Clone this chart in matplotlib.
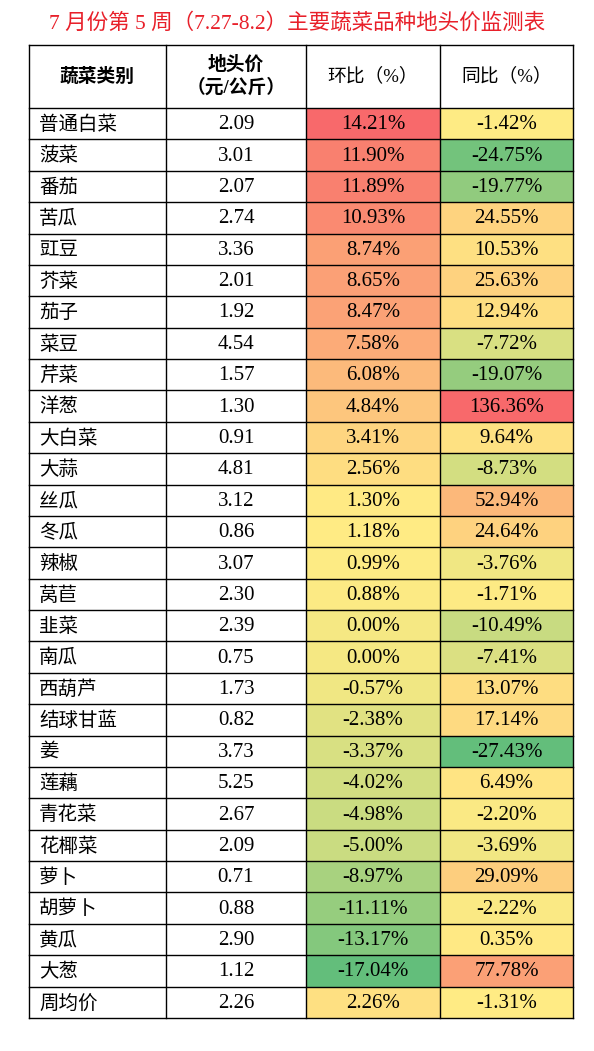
import numpy as np
import matplotlib
matplotlib.use('Agg')
from matplotlib import pyplot as plt
from matplotlib.colors import LinearSegmentedColormap, to_rgb

plt.rcParams['font.family'] = ['Liberation Serif', 'Noto Sans CJK SC']

title = '7 月份第 5 周（7.27-8.2）主要蔬菜品种地头价监测表'
headers = ['蔬菜类别', '地头价\n（元/公斤）', '环比（%）', '同比（%）']
names = ['普通白菜', '菠菜', '番茄', '苦瓜', '豇豆', '芥菜', '茄子', '菜豆', '芹菜', '洋葱',
         '大白菜', '大蒜', '丝瓜', '冬瓜', '辣椒', '莴苣', '韭菜', '南瓜', '西葫芦', '结球甘蓝',
         '姜', '莲藕', '青花菜', '花椰菜', '萝卜', '胡萝卜', '黄瓜', '大葱', '周均价']
prices = [2.09, 3.01, 2.07, 2.74, 3.36, 2.01, 1.92, 4.54, 1.57, 1.30,
          0.91, 4.81, 3.12, 0.86, 3.07, 2.30, 2.39, 0.75, 1.73, 0.82,
          3.73, 5.25, 2.67, 2.09, 0.71, 0.88, 2.90, 1.12, 2.26]
mom = [14.21, 11.90, 11.89, 10.93, 8.74, 8.65, 8.47, 7.58, 6.08, 4.84,
       3.41, 2.56, 1.30, 1.18, 0.99, 0.88, 0.00, 0.00, -0.57, -2.38,
       -3.37, -4.02, -4.98, -5.00, -8.97, -11.11, -13.17, -17.04, 2.26]
yoy = [-1.42, -24.75, -19.77, 24.55, 10.53, 25.63, 12.94, -7.72, -19.07, 136.36,
       9.64, -8.73, 52.94, 24.64, -3.76, -1.71, -10.49, -7.41, 13.07, 17.14,
       -27.43, 6.49, -2.20, -3.69, 29.09, -2.22, 0.35, 77.78, -1.31]

red, yellow, green = to_rgb('#F8696B'), to_rgb('#FFEB84'), to_rgb('#63BE7B')


def scale_color(v, vals):
    lo, mid, hi = min(vals), np.percentile(vals, 50), max(vals)
    if v >= mid:
        t = (v - mid) / (hi - mid) if hi > mid else 0
        return tuple(y + (r - y) * t for y, r in zip(yellow, red))
    t = (mid - v) / (mid - lo) if mid > lo else 0
    return tuple(y + (g - y) * t for y, g in zip(yellow, green))


W, H = 594, 1051
fig = plt.figure(figsize=(W / 100, H / 100), dpi=100)
ax = fig.add_axes([0, 0, 1, 1])
ax.set_xlim(0, W)
ax.set_ylim(H, 0)
ax.axis('off')

ax.text(297, 23, title, color='#E8202A', fontsize=15.5, ha='center', va='center')

cols = [29, 166, 306, 440, 573]
top, head_h = 45, 63
row_h = (1018 - top - head_h) / len(names)

# header
for j, h in enumerate(headers):
    cx = (cols[j] + cols[j + 1]) / 2
    ax.text(cx, top + head_h / 2, h, ha='center', va='center', fontsize=13.5,
            fontweight='bold' if j < 2 else 'normal', linespacing=1.3)

for i in range(len(names)):
    y0 = top + head_h + i * row_h
    cy = y0 + row_h / 2 + 1
    ax.add_patch(plt.Rectangle((cols[2], y0), cols[3] - cols[2], row_h,
                               color=scale_color(mom[i], mom), lw=0))
    ax.add_patch(plt.Rectangle((cols[3], y0), cols[4] - cols[3], row_h,
                               color=scale_color(yoy[i], yoy), lw=0))
    ax.text(cols[0] + 10, cy, names[i], ha='left', va='center', fontsize=14)
    ax.text((cols[1] + cols[2]) / 2, cy, f'{prices[i]:.2f}', ha='center', va='center', fontsize=15)
    ax.text((cols[2] + cols[3]) / 2, cy, f'{mom[i]:.2f}%', ha='center', va='center', fontsize=15)
    ax.text((cols[3] + cols[4]) / 2, cy, f'{yoy[i]:.2f}%', ha='center', va='center', fontsize=15)

# grid lines
bottom = top + head_h + len(names) * row_h
for x in cols:
    ax.plot([x, x], [top, bottom], color='black', lw=1)
ax.plot([cols[0], cols[-1]], [top, top], color='black', lw=1)
for i in range(len(names) + 1):
    y = top + head_h + i * row_h
    ax.plot([cols[0], cols[-1]], [y, y], color='black', lw=1)

fig.savefig('out.png', dpi=100)
